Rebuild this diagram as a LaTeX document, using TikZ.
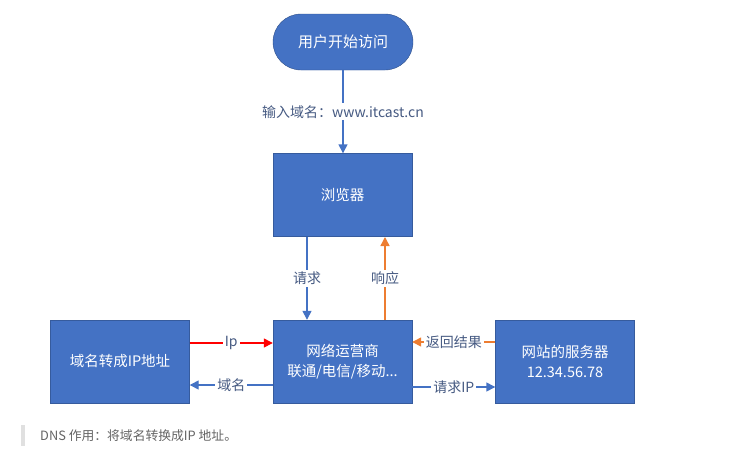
\documentclass[tikz,border=0pt]{standalone}
\usepackage{fontspec}
\setmainfont{Noto Sans CJK SC}
\usetikzlibrary{arrows.meta,shapes.misc}
\definecolor{boxblue}{RGB}{68,114,196}
\definecolor{lblue}{RGB}{70,90,130}
\definecolor{aorange}{RGB}{237,125,49}
\definecolor{ared}{RGB}{255,0,0}
\definecolor{capgray}{RGB}{100,100,100}
\tikzset{
  box/.style={draw=boxblue!80!black, line width=0.4pt, fill=boxblue, text=white, minimum width=139pt, minimum height=83pt, inner sep=0pt, font=\fontsize{14.5}{20}\selectfont, align=center},
  startbox/.style={rounded rectangle, draw=boxblue!70!black, fill=boxblue, text=white, minimum width=140pt, minimum height=56pt, inner sep=0pt, font=\fontsize{15}{18}\selectfont},
  conn/.style={line width=1.4pt, -{Triangle[length=9pt,width=9pt]}},
  lbl/.style={fill=white, text=lblue, inner sep=2pt, font=\fontsize{14}{16}\selectfont}
}
\begin{document}
\begin{tikzpicture}[x=1pt,y=-1pt]
\useasboundingbox (0,0) rectangle (729,456);
\node[startbox] (start) at (343,42) {用户开始访问};
\node[box] (browser) at (342.5,195) {浏览器};
\node[box] (isp) at (342.5,361.5) {网络运营商\\联通/电信/移动...};
\node[box] (dns) at (120,361.5) {域名转成IP地址};
\node[box] (web) at (565,361.5) {网站的服务器\\12.34.56.78};

\draw[conn, boxblue] (start.south) -- node[lbl]{输入域名：www.itcast.cn} (browser.north -| start.south);

\coordinate (bq) at (307,237);
\coordinate (br) at (385,237);
\draw[conn, boxblue] (bq) -- node[lbl]{请求} (bq |- isp.north);
\draw[conn, aorange] (br |- isp.north) -- node[lbl]{响应} (br);

\coordinate (ipy) at (0,343);
\coordinate (dmy) at (0,385);
\draw[conn, ared] (dns.east |- ipy) -- node[lbl, text=lblue]{Ip} (isp.west |- ipy);
\draw[conn, boxblue] (isp.west |- dmy) -- node[lbl]{域名} (dns.east |- dmy);

\coordinate (rty) at (0,342);
\coordinate (rqy) at (0,387);
\draw[conn, aorange] (web.west |- rty) -- node[lbl]{返回结果} (isp.east |- rty);
\draw[conn, boxblue] (isp.east |- rqy) -- node[lbl]{请求IP} (web.west |- rqy);

\fill[black!12] (21,425) rectangle (25,446);
\node[anchor=west, text=capgray, inner sep=0pt, font=\fontsize{12.8}{15}\selectfont] (cap) at (40,435.5) {DNS 作用：将域名转换成IP 地址。};
\end{tikzpicture}
\end{document}
